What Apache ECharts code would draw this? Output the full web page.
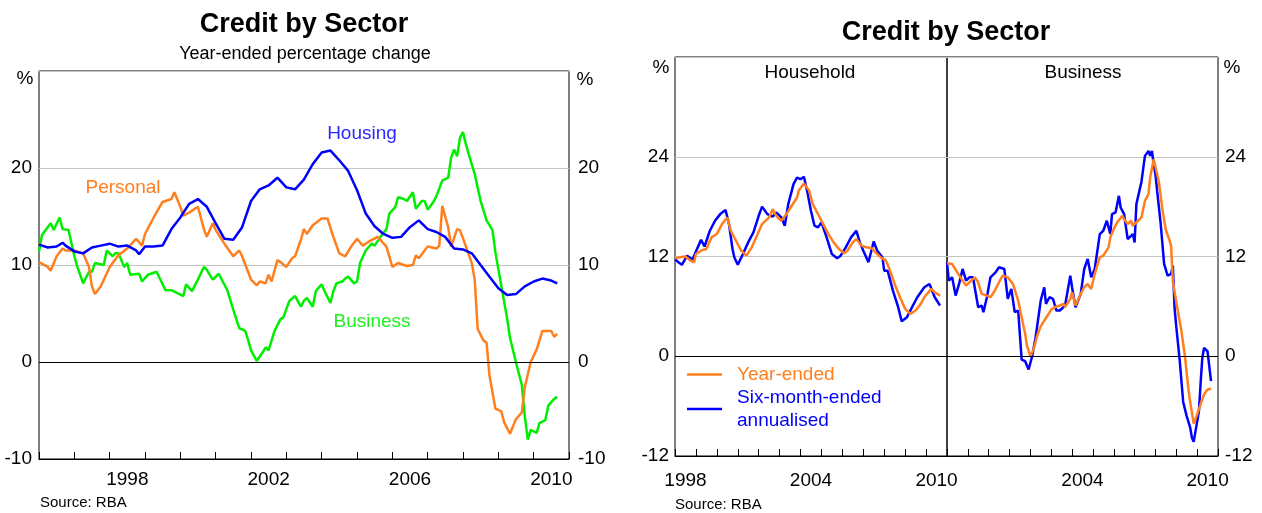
<!DOCTYPE html>
<html>
<head>
<meta charset="utf-8">
<title>Credit by Sector</title>
<script src="https://cdn.jsdelivr.net/npm/echarts@6/dist/echarts.min.js"></script>
<style>
  html, body { margin: 0; padding: 0; background: #fff; }
  #chart { width: 1262px; height: 513px; }
</style>
</head>
<body>
<div id="chart"></div>
<script>
// ---- left chart: year-ended percentage change ----
var housing = [
  ['1996-01', 12.1], ['1996-04', 11.8], ['1996-07', 11.9], ['1996-09', 12.3], ['1996-10', 12.0],
  ['1997-01', 11.4], ['1997-04', 11.2], ['1997-07', 11.8], ['1997-10', 12.0],
  ['1998-01', 12.2], ['1998-04', 11.9], ['1998-07', 12.0], ['1998-10', 11.5], ['1998-11', 11.1],
  ['1999-01', 11.9], ['1999-04', 11.9], ['1999-07', 12.0], ['1999-10', 13.7],
  ['2000-01', 14.9], ['2000-04', 16.3], ['2000-07', 16.8], ['2000-10', 16.0],
  ['2001-01', 14.3], ['2001-04', 12.7], ['2001-07', 12.6], ['2001-10', 13.9],
  ['2002-01', 16.6], ['2002-04', 17.8], ['2002-07', 18.2], ['2002-10', 19.0],
  ['2003-01', 18.0], ['2003-04', 17.8], ['2003-07', 18.8], ['2003-10', 20.4],
  ['2004-01', 21.6], ['2004-04', 21.8], ['2004-07', 20.8], ['2004-10', 19.7],
  ['2005-01', 17.7], ['2005-04', 15.3], ['2005-07', 14.0], ['2005-10', 13.2],
  ['2006-01', 12.8], ['2006-04', 12.9], ['2006-07', 13.9], ['2006-10', 14.6],
  ['2007-01', 13.7], ['2007-04', 13.4], ['2007-07', 12.9], ['2007-10', 11.7],
  ['2008-01', 11.6], ['2008-04', 11.2], ['2008-07', 10.0], ['2008-10', 8.8],
  ['2009-01', 7.6], ['2009-04', 6.9], ['2009-07', 7.0], ['2009-10', 7.8],
  ['2010-01', 8.3], ['2010-04', 8.6], ['2010-07', 8.4], ['2010-09', 8.1]
];
var personal = [
  ['1996-01', 10.3], ['1996-04', 9.8], ['1996-05', 9.4], ['1996-07', 10.9], ['1996-09', 11.7], ['1996-10', 11.5],
  ['1997-01', 11.5], ['1997-04', 11.2], ['1997-06', 9.8], ['1997-07', 7.8], ['1997-08', 7.0], ['1997-10', 7.8],
  ['1998-01', 9.8], ['1998-04', 11.0], ['1998-07', 11.7], ['1998-10', 12.7], ['1998-12', 12.0],
  ['1999-01', 13.2], ['1999-04', 14.9], ['1999-07', 16.5], ['1999-10', 16.8], ['1999-11', 17.5],
  ['2000-01', 16.0], ['2000-02', 15.1], ['2000-04', 15.4], ['2000-07', 16.0], ['2000-09', 13.7], ['2000-10', 12.9], ['2000-12', 14.3],
  ['2001-01', 13.6], ['2001-04', 12.2], ['2001-07', 10.9], ['2001-09', 11.5], ['2001-10', 10.9],
  ['2002-01', 8.5], ['2002-03', 7.9], ['2002-04', 8.3], ['2002-06', 8.1], ['2002-07', 9.0], ['2002-08', 8.3], ['2002-10', 10.5], ['2002-11', 10.3],
  ['2003-01', 9.8], ['2003-03', 10.7], ['2003-04', 10.9], ['2003-06', 12.6], ['2003-07', 13.7], ['2003-08', 13.2], ['2003-10', 14.1],
  ['2004-01', 14.8], ['2004-03', 14.8], ['2004-05', 12.9], ['2004-07', 11.2], ['2004-09', 10.9], ['2004-11', 11.9],
  ['2005-01', 12.7], ['2005-03', 12.0], ['2005-05', 12.4], ['2005-08', 12.9], ['2005-11', 11.9],
  ['2006-01', 9.8], ['2006-03', 10.2], ['2006-06', 9.9], ['2006-08', 10.0], ['2006-09', 11.0], ['2006-10', 10.7],
  ['2007-01', 11.9], ['2007-04', 11.7], ['2007-05', 12.0], ['2007-06', 16.1], ['2007-08', 13.9], ['2007-09', 11.9], ['2007-11', 13.7], ['2007-12', 13.6],
  ['2008-02', 11.9], ['2008-04', 10.2], ['2008-05', 8.5], ['2008-06', 3.4], ['2008-08', 2.2], ['2008-09', 2.0], ['2008-10', -1.4], ['2008-12', -4.8],
  ['2009-02', -5.1], ['2009-03', -6.2], ['2009-05', -7.4], ['2009-07', -5.9], ['2009-09', -5.2], ['2009-10', -2.6], ['2009-12', 0.0],
  ['2010-02', 1.3], ['2010-04', 3.2], ['2010-07', 3.2], ['2010-08', 2.6], ['2010-09', 2.9]
];
var business = [
  ['1996-01', 11.4], ['1996-02', 13.1], ['1996-05', 14.3], ['1996-06', 13.6], ['1996-08', 14.9], ['1996-09', 13.7], ['1996-11', 13.6],
  ['1997-01', 10.9], ['1997-02', 9.8], ['1997-04', 8.1], ['1997-06', 9.3], ['1997-07', 9.3], ['1997-08', 10.2], ['1997-11', 10.0], ['1997-12', 11.5],
  ['1998-02', 10.9], ['1998-03', 11.2], ['1998-04', 11.2], ['1998-06', 9.8], ['1998-07', 10.2], ['1998-08', 9.0], ['1998-11', 9.1], ['1998-12', 8.3],
  ['1999-02', 9.0], ['1999-05', 9.3], ['1999-08', 7.4], ['1999-10', 7.4], ['1999-12', 7.1],
  ['2000-02', 6.8], ['2000-03', 8.0], ['2000-05', 7.3], ['2000-07', 8.5], ['2000-09', 9.8], ['2000-10', 9.5], ['2000-12', 8.5],
  ['2001-02', 9.1], ['2001-05', 7.4], ['2001-07', 5.4], ['2001-09', 3.5], ['2001-11', 3.2], ['2001-12', 2.3],
  ['2002-01', 1.2], ['2002-03', 0.1], ['2002-05', 1.0], ['2002-06', 1.5], ['2002-07', 1.2], ['2002-09', 3.2], ['2002-11', 4.4], ['2002-12', 4.6],
  ['2003-02', 6.3], ['2003-04', 6.8], ['2003-06', 5.7], ['2003-07', 6.3], ['2003-08', 6.6], ['2003-10', 5.7], ['2003-11', 7.3],
  ['2004-01', 8.0], ['2004-02', 7.3], ['2004-04', 6.1], ['2004-05', 7.3], ['2004-06', 8.1], ['2004-08', 8.3], ['2004-09', 8.6], ['2004-10', 8.8], ['2004-12', 8.1],
  ['2005-01', 8.3], ['2005-02', 10.2], ['2005-04', 11.5], ['2005-06', 12.2], ['2005-07', 12.0], ['2005-09', 12.9], ['2005-11', 13.7], ['2005-12', 15.3],
  ['2006-02', 16.0], ['2006-03', 17.0], ['2006-05', 16.8], ['2006-06', 16.6], ['2006-08', 17.5], ['2006-09', 15.8], ['2006-11', 16.6], ['2006-12', 16.6],
  ['2007-01', 15.7], ['2007-03', 16.5], ['2007-04', 17.1], ['2007-06', 18.7], ['2007-08', 19.0], ['2007-09', 21.1], ['2007-10', 21.9], ['2007-11', 21.2], ['2007-12', 23.1],
  ['2008-01', 23.7], ['2008-02', 22.4], ['2008-03', 21.4], ['2008-05', 19.4], ['2008-07', 16.6], ['2008-09', 14.6], ['2008-11', 13.6], ['2008-12', 11.3],
  ['2009-02', 7.8], ['2009-04', 4.5], ['2009-05', 2.5], ['2009-07', 0.0], ['2009-09', -2.4], ['2009-10', -5.6], ['2009-11', -8.0], ['2009-12', -7.0],
  ['2010-02', -7.3], ['2010-03', -6.3], ['2010-05', -6.0], ['2010-06', -4.5], ['2010-08', -3.8], ['2010-09', -3.6]
];

// ---- right chart: household / business ----
var hhYearEnded = [
  ['1998-01', 11.8], ['1998-04', 11.9], ['1998-07', 12.0], ['1998-10', 11.5], ['1998-12', 11.3],
  ['1999-01', 12.3], ['1999-04', 12.7], ['1999-07', 12.9], ['1999-10', 14.3],
  ['2000-01', 14.7], ['2000-04', 15.9], ['2000-07', 16.7], ['2000-09', 15.1], ['2000-12', 13.9],
  ['2001-03', 12.7], ['2001-06', 12.1], ['2001-09', 13.1], ['2001-12', 14.5],
  ['2002-03', 15.9], ['2002-07', 16.7], ['2002-09', 17.7], ['2002-11', 16.9],
  ['2003-02', 16.3], ['2003-05', 17.1], ['2003-08', 18.1], ['2003-11', 19.1], ['2003-12', 19.9],
  ['2004-03', 20.8], ['2004-06', 19.9], ['2004-08', 18.3], ['2004-11', 17.1],
  ['2005-02', 15.9], ['2005-05', 14.7], ['2005-08', 13.7], ['2005-11', 12.9],
  ['2006-02', 12.4], ['2006-04', 12.7], ['2006-07', 13.7], ['2006-09', 14.1], ['2006-12', 13.3],
  ['2007-03', 13.1], ['2007-06', 13.0], ['2007-08', 12.5], ['2007-11', 11.9],
  ['2008-02', 11.5], ['2008-04', 10.5], ['2008-07', 8.7], ['2008-10', 7.1],
  ['2009-01', 5.7], ['2009-04', 5.1], ['2009-07', 5.5], ['2009-10', 6.3], ['2009-12', 7.1],
  ['2010-04', 8.1], ['2010-06', 7.7], ['2010-09', 7.3]
];
var hhSixMonth = [
  ['1998-01', 11.7], ['1998-03', 11.3], ['1998-05', 11.0], ['1998-08', 12.1], ['1998-11', 11.6],
  ['1999-01', 12.6], ['1999-04', 14.0], ['1999-06', 13.2], ['1999-09', 15.1], ['1999-12', 16.3],
  ['2000-03', 17.1], ['2000-06', 17.6], ['2000-08', 15.9], ['2000-10', 12.9], ['2000-11', 11.9],
  ['2001-01', 11.0], ['2001-04', 12.3], ['2001-07', 13.7], ['2001-10', 14.9],
  ['2002-01', 16.9], ['2002-03', 18.0], ['2002-06', 17.1], ['2002-09', 16.8], ['2002-11', 17.3],
  ['2003-02', 16.7], ['2003-04', 15.7], ['2003-06', 18.3], ['2003-09', 20.7], ['2003-11', 21.5],
  ['2004-01', 21.3], ['2004-03', 21.6], ['2004-05', 19.7], ['2004-07', 17.5], ['2004-09', 15.7], ['2004-11', 15.5],
  ['2005-01', 16.1], ['2005-04', 14.3], ['2005-07', 12.3], ['2005-10', 11.8], ['2005-12', 12.1],
  ['2006-03', 13.1], ['2006-06', 14.3], ['2006-09', 15.1], ['2006-11', 13.7],
  ['2007-01', 12.7], ['2007-04', 11.3], ['2007-07', 13.8], ['2007-09', 12.7], ['2007-12', 11.9],
  ['2008-01', 10.3], ['2008-03', 10.3], ['2008-06', 7.9], ['2008-09', 5.9], ['2008-11', 4.2],
  ['2009-02', 4.7], ['2009-05', 5.9], ['2009-08', 7.1], ['2009-12', 8.3],
  ['2010-03', 8.7], ['2010-06', 7.1], ['2010-09', 6.1]
];
var bizYearEnded = [
  ['1998-01', 11.2], ['1998-04', 11.1], ['1998-07', 10.1], ['1998-10', 9.1], ['1998-12', 8.5],
  ['1999-03', 9.1], ['1999-05', 9.5], ['1999-07', 8.9], ['1999-09', 7.5], ['1999-12', 7.3],
  ['2000-02', 7.1], ['2000-04', 7.7], ['2000-07', 8.9], ['2000-09', 9.7], ['2000-12', 9.5],
  ['2001-03', 8.7], ['2001-06', 6.7], ['2001-08', 4.7], ['2001-10', 2.7], ['2001-11', 1.3],
  ['2002-01', 0.0], ['2002-03', 0.9], ['2002-05', 2.5], ['2002-07', 3.6], ['2002-10', 4.6],
  ['2003-01', 5.6], ['2003-03', 5.9], ['2003-06', 6.1], ['2003-08', 6.3], ['2003-09', 5.9], ['2003-12', 6.9],
  ['2004-01', 7.7], ['2004-03', 6.1], ['2004-06', 7.5], ['2004-08', 8.3], ['2004-10', 8.7], ['2004-12', 8.1],
  ['2005-02', 9.9], ['2005-05', 11.9], ['2005-07', 12.1], ['2005-10', 13.1], ['2005-11', 14.3],
  ['2006-01', 15.3], ['2006-03', 16.1], ['2006-06', 16.9], ['2006-07', 16.5], ['2006-09', 15.9], ['2006-11', 16.3], ['2006-12', 15.7],
  ['2007-03', 16.3], ['2007-05', 16.7], ['2007-07', 18.7], ['2007-09', 19.5], ['2007-10', 21.5], ['2007-12', 23.7],
  ['2008-01', 23.5], ['2008-03', 21.0], ['2008-05', 17.7], ['2008-07', 15.2], ['2008-09', 14.0], ['2008-10', 13.3], ['2008-11', 9.0],
  ['2009-01', 6.5], ['2009-04', 3.0], ['2009-06', 0.0], ['2009-08', -4.0], ['2009-09', -5.5], ['2009-11', -8.1],
  ['2010-01', -7.0], ['2010-03', -5.8], ['2010-05', -4.6], ['2010-07', -4.0], ['2010-09', -3.9]
];
var bizSixMonth = [
  ['1998-01', 11.3], ['1998-02', 9.1], ['1998-04', 9.5], ['1998-06', 7.3], ['1998-08', 8.7], ['1998-10', 10.5], ['1998-12', 9.1],
  ['1999-02', 9.5], ['1999-04', 9.5], ['1999-07', 5.9], ['1999-09', 6.1], ['1999-10', 5.3], ['1999-12', 7.1],
  ['2000-02', 9.5], ['2000-05', 10.1], ['2000-07', 10.7], ['2000-10', 10.5], ['2000-12', 6.9],
  ['2001-02', 8.1], ['2001-04', 5.3], ['2001-06', 5.5], ['2001-08', -0.4], ['2001-10', -0.6], ['2001-12', -1.6],
  ['2002-02', 0.0], ['2002-04', 2.2], ['2002-07', 6.7], ['2002-09', 8.3], ['2002-10', 6.3], ['2002-12', 7.1],
  ['2003-02', 6.9], ['2003-04', 5.5], ['2003-06', 5.5], ['2003-09', 6.1], ['2003-12', 9.7],
  ['2004-01', 8.3], ['2004-03', 5.9], ['2004-06', 7.5], ['2004-08', 10.5], ['2004-10', 11.7], ['2004-12', 9.5],
  ['2005-02', 10.5], ['2005-05', 14.7], ['2005-07', 15.1], ['2005-09', 16.3], ['2005-11', 14.7], ['2005-12', 17.1],
  ['2006-02', 17.3], ['2006-04', 19.3], ['2006-05', 17.9], ['2006-07', 17.1], ['2006-09', 14.1], ['2006-10', 14.1], ['2006-12', 14.7],
  ['2007-01', 13.7], ['2007-02', 18.3], ['2007-05', 21.0], ['2007-07', 24.1], ['2007-09', 24.7], ['2007-10', 24.1], ['2007-11', 24.7], ['2007-12', 23.1],
  ['2008-01', 21.9], ['2008-02', 19.8], ['2008-04', 16.0], ['2008-06', 11.1], ['2008-08', 9.7], ['2008-10', 9.9], ['2008-11', 10.9], ['2008-12', 5.8],
  ['2009-01', 3.5], ['2009-03', -0.5], ['2009-05', -5.5], ['2009-07', -7.2], ['2009-09', -8.6], ['2009-10', -9.8], ['2009-11', -10.3],
  ['2010-02', -6.6], ['2010-03', -3.4], ['2010-04', -0.2], ['2010-05', 1.0], ['2010-07', 0.6], ['2010-09', -3.0]
];

// axis categories / tick labels
var leftYears = ['1996', '1997', '1998', '1999', '2000', '2001', '2002', '2003', '2004', '2005', '2006', '2007', '2008', '2009', '2010'];
var rightYears = ['1998', '1999', '2000', '2001', '2002', '2003', '2004', '2005', '2006', '2007', '2008', '2009', '2010'];
var leftYearLabels = ['1998', '2002', '2006', '2010'];
var householdYearLabels = ['1998', '2004', '2010'];
var businessYearLabels = ['2004', '2010'];

var ORANGE = '#ff7f1e';
var BLUE = '#0000ff';
var GREEN = '#00ee00';
var FONT = '"Liberation Sans", Arial, sans-serif';

var chart = echarts.init(document.getElementById('chart'));

function catAxis(grid, years, shown, margin) {
  return {
    type: 'category', gridIndex: grid, position: 'bottom', data: years, boundaryGap: true,
    axisLine: { show: true, onZero: false, lineStyle: { color: '#000', width: 1 } },
    axisTick: { show: true, inside: true, length: 7, interval: 0, lineStyle: { color: '#000' } },
    axisLabel: {
      interval: 0, margin: margin, fontSize: 19, color: '#000', fontFamily: FONT,
      formatter: function (v) { return shown.indexOf(v) >= 0 ? v : ''; }
    },
    splitLine: { show: false }
  };
}
function timeAxis(grid, min, max) {
  return { type: 'time', gridIndex: grid, position: 'top', min: min, max: max, show: false };
}
function valAxis(grid, pos, min, max, step, margin, split) {
  return {
    type: 'value', gridIndex: grid, position: pos, min: min, max: max, interval: step,
    axisLine: { show: false }, axisTick: { show: false },
    axisLabel: {
      margin: margin, fontSize: 19, color: '#000', fontFamily: FONT,
      formatter: function (v) { return v === max ? '' : String(v); }
    },
    splitLine: { show: split, lineStyle: { color: '#c4c4c4', width: 1 } }
  };
}
function line(name, data, color, xi, yi, withZero) {
  var s = {
    type: 'line', name: name, data: data, xAxisIndex: xi, yAxisIndex: yi,
    symbol: 'none', showSymbol: false,
    lineStyle: { color: color, width: 2.5 }, itemStyle: { color: color }
  };
  if (withZero) {
    s.markLine = {
      silent: true, symbol: ['none', 'none'], label: { show: false }, animation: false,
      lineStyle: { color: '#000', width: 1, type: 'solid' }, data: [{ yAxis: 0 }]
    };
  }
  return s;
}
function txt(text, x, y, size, color, align, weight) {
  return {
    type: 'text', x: x, y: y, silent: true,
    style: {
      text: text, fill: color, fontSize: size, fontFamily: FONT, fontWeight: weight || 'normal',
      align: align, verticalAlign: 'middle'
    }
  };
}
var gridBox = { show: true, borderColor: '#000', borderWidth: 1, backgroundColor: 'transparent', outerBoundsMode: 'none' };

chart.setOption({
  animation: false,
  backgroundColor: '#fff',
  grid: [
    Object.assign({ left: 39, top: 71, width: 530, height: 388 }, gridBox),
    Object.assign({ left: 675, top: 57, width: 272, height: 399 }, gridBox),
    Object.assign({ left: 947, top: 57, width: 271, height: 399 }, gridBox)
  ],
  xAxis: [
    timeAxis(0, '1996-01-01', '2011-01-01'),
    catAxis(0, leftYears, leftYearLabels, 11),
    timeAxis(1, '1998-01-01', '2011-01-01'),
    catAxis(1, rightYears, householdYearLabels, 15),
    timeAxis(2, '1998-01-01', '2011-01-01'),
    catAxis(2, rightYears, businessYearLabels, 15)
  ],
  yAxis: [
    valAxis(0, 'left', -10, 30, 10, 7, true),
    valAxis(0, 'right', -10, 30, 10, 9, false),
    valAxis(1, 'left', -12, 36, 12, 6, true),
    valAxis(2, 'right', -12, 36, 12, 7, true)
  ],
  legend: {
    left: 687, top: 363, padding: 0, orient: 'vertical', itemGap: 0,
    icon: 'rect', itemWidth: 35, itemHeight: 2.5, selectedMode: false,
    data: [
      { name: 'Year-ended', textStyle: { color: ORANGE } },
      { name: 'Six-month-ended annualised', textStyle: { color: BLUE } }
    ],
    formatter: function (n) { return n.replace(' annualised', '\nannualised'); },
    textStyle: { fontSize: 19, lineHeight: 23, fontFamily: FONT, padding: [0, 0, 0, 10] }
  },
  series: [
    line('Business', business, GREEN, 0, 0, true),
    line('Personal', personal, ORANGE, 0, 0),
    line('Housing', housing, BLUE, 0, 0),
    line('Six-month-ended annualised', hhSixMonth, BLUE, 2, 2, true),
    line('Year-ended', hhYearEnded, ORANGE, 2, 2),
    line('Six-month-ended annualised', bizSixMonth, BLUE, 4, 3, true),
    line('Year-ended', bizYearEnded, ORANGE, 4, 3)
  ],
  graphic: [
    txt('Credit by Sector', 304, 25, 27, '#000', 'center', 'bold'),
    txt('Year-ended percentage change', 305, 54, 18, '#000', 'center'),
    txt('%', 25, 79, 19, '#000', 'center'),
    txt('%', 585, 80, 19, '#000', 'center'),
    txt('Personal', 123, 188, 19, ORANGE, 'center'),
    txt('Housing', 362, 134, 19, '#2a2aff', 'center'),
    txt('Business', 372, 322, 19, '#22ee22', 'center'),
    txt('Source: RBA', 40, 503, 15, '#000', 'left'),
    txt('Credit by Sector', 946, 33, 27, '#000', 'center', 'bold'),
    txt('%', 661, 68, 19, '#000', 'center'),
    txt('%', 1232, 68, 19, '#000', 'center'),
    txt('Household', 810, 73, 19, '#000', 'center'),
    txt('Business', 1083, 73, 19, '#000', 'center'),
    txt('Source: RBA', 675, 505, 15, '#000', 'left')
  ]
});
</script>
</body>
</html>
